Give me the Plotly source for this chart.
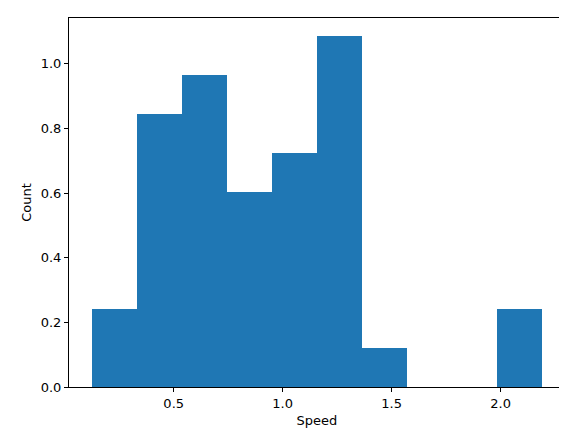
import numpy as np
import plotly.graph_objects as go

# histogram of speeds (density-normalised, 10 bins)
bin_start = 0.123
bin_end = 2.192
counts = [2, 7, 8, 5, 6, 9, 1, 0, 0, 2]

n_bins = len(counts)
width = (bin_end - bin_start) / n_bins
edges = bin_start + width * np.arange(n_bins)
density = np.array(counts) / (sum(counts) * width)

fig = go.Figure(
    go.Bar(
        x=edges,
        y=density,
        width=width,
        offset=0,
        marker=dict(color="#1f77b4", line=dict(width=0)),
    )
)

pad = 0.05 * (bin_end - bin_start)
axis_style = dict(
    showgrid=False,
    zeroline=False,
    showline=True,
    linecolor="black",
    linewidth=1,
    mirror=True,
    ticks="outside",
    ticklen=4,
    tickcolor="black",
    tickfont=dict(size=13, color="black"),
    automargin=False,
)
fig.update_layout(
    width=567,
    height=432,
    margin=dict(l=61, r=10, t=10, b=53, autoexpand=False),
    plot_bgcolor="white",
    paper_bgcolor="white",
    font=dict(family="DejaVu Sans", color="black"),
    bargap=0,
    showlegend=False,
    xaxis=dict(
        range=[bin_start - pad, bin_end + pad],
        tickvals=[0.5, 1.0, 1.5, 2.0],
        ticktext=["0.5", "1.0", "1.5", "2.0"],
        title=dict(text="Speed", font=dict(size=13), standoff=6),
        **axis_style,
    ),
    yaxis=dict(
        range=[0, density.max() * 1.05],
        tickvals=[0, 0.2, 0.4, 0.6, 0.8, 1.0],
        ticktext=["0.0", "0.2", "0.4", "0.6", "0.8", "1.0"],
        title=dict(text="Count", font=dict(size=13), standoff=6),
        **axis_style,
    ),
)
fig.write_html("out.html")
